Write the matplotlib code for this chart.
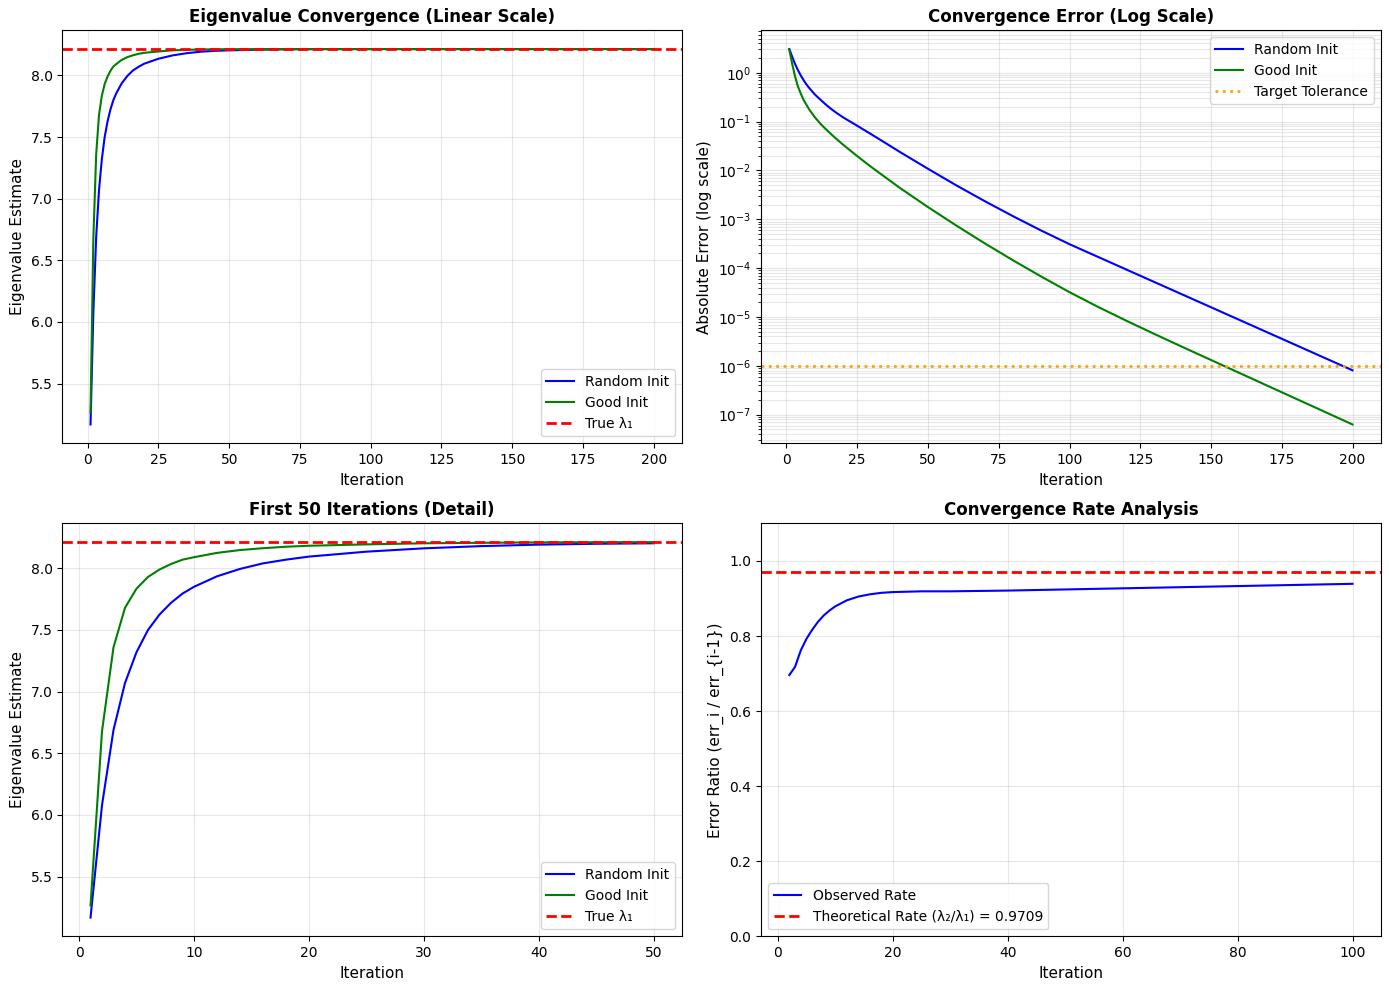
import matplotlib

matplotlib.use("Agg")
import matplotlib.pyplot as plt

TRUE_LAMBDA = 8.2134
THEORETICAL_RATE = 0.9709
TOLERANCE = 1e-6

# eigenvalue estimates
eig_iters = [1, 2, 3, 4, 5, 6, 7, 8, 9, 10, 12, 14, 16, 18, 20, 25, 30, 35, 40, 45, 50,
             60, 70, 80, 100, 125, 150, 175, 200]
eig_random = [5.168, 6.08, 6.69, 7.07, 7.32, 7.50, 7.625, 7.72, 7.795, 7.85, 7.935, 7.995,
              8.04, 8.07, 8.095, 8.135, 8.162, 8.18, 8.192, 8.199, 8.203,
              8.208, 8.2116, 8.2128, 8.2133, 8.2134, 8.2134, 8.2134, 8.2134]
eig_good = [5.265, 6.68, 7.36, 7.68, 7.835, 7.93, 7.99, 8.035, 8.07, 8.09, 8.125, 8.148,
            8.163, 8.175, 8.183, 8.194, 8.203, 8.207, 8.210, 8.2115, 8.2122,
            8.2130, 8.2133, 8.2134, 8.2134, 8.2134, 8.2134, 8.2134, 8.2134]

# absolute errors
err_iters = [1, 2, 3, 4, 5, 6, 7, 8, 10, 12, 14, 16, 18, 20, 25, 30, 35, 40, 45, 50,
             60, 70, 80, 90, 100, 110, 120, 130, 140, 150, 160, 170, 180, 190, 200]
err_random = [3.05, 2.13, 1.52, 1.14, 0.89, 0.71, 0.58, 0.49, 0.36, 0.28, 0.22, 0.177,
              0.146, 0.122, 0.082, 0.0548, 0.0363, 0.0240, 0.0161, 0.0108,
              4.95e-3, 2.36e-3, 1.159e-3, 5.88e-4, 3.09e-4, 1.705e-4, 9.41e-5, 5.19e-5,
              2.866e-5, 1.582e-5, 8.73e-6, 4.82e-6, 2.66e-6, 1.467e-6, 8.1e-7]
err_good = [2.95, 1.53, 0.85, 0.53, 0.38, 0.28, 0.223, 0.178, 0.123, 0.090, 0.069, 0.0537,
            0.0423, 0.0336, 0.0196, 0.0117, 7.18e-3, 4.41e-3, 2.80e-3, 1.775e-3,
            7.44e-4, 3.23e-4, 1.451e-4, 6.73e-5, 3.22e-5, 1.617e-5, 8.43e-6, 4.49e-6,
            2.42e-6, 1.317e-6, 7.17e-7, 3.90e-7, 2.125e-7, 1.157e-7, 6.30e-8]

# observed error ratio err_i / err_{i-1}
rate_iters = [2, 3, 4, 5, 6, 7, 8, 9, 10, 12, 14, 16, 18, 20, 25, 30, 40, 50, 60, 70, 80, 90, 100]
rate_observed = [0.696, 0.718, 0.762, 0.793, 0.817, 0.838, 0.855, 0.868, 0.879, 0.895, 0.905,
                 0.911, 0.915, 0.917, 0.919, 0.919, 0.921, 0.924, 0.927, 0.930, 0.933, 0.936, 0.939]


def eigen_panel(ax, iters, random_vals, good_vals, title):
    ax.plot(iters, random_vals, color="blue", linewidth=1.5, label="Random Init")
    ax.plot(iters, good_vals, color="green", linewidth=1.5, label="Good Init")
    ax.axhline(TRUE_LAMBDA, color="red", linestyle="--", linewidth=2, label="True λ₁")
    ax.set_title(title, fontweight="bold", fontsize=12)
    ax.set_xlabel("Iteration", fontsize=11)
    ax.set_ylabel("Eigenvalue Estimate", fontsize=11)
    ax.legend(loc="lower right")
    ax.grid(True, alpha=0.3)


fig, axes = plt.subplots(2, 2, figsize=(13.89, 9.9), dpi=100)
fig.subplots_adjust(left=0.0449, right=0.994, top=0.9694, bottom=0.0542,
                    wspace=0.128, hspace=0.194)

eigen_panel(axes[0, 0], eig_iters, eig_random, eig_good, "Eigenvalue Convergence (Linear Scale)")

n50 = eig_iters.index(50) + 1
eigen_panel(axes[1, 0], eig_iters[:n50], eig_random[:n50], eig_good[:n50], "First 50 Iterations (Detail)")

ax = axes[0, 1]
ax.semilogy(err_iters, err_random, color="blue", linewidth=1.5, label="Random Init")
ax.semilogy(err_iters, err_good, color="green", linewidth=1.5, label="Good Init")
ax.axhline(TOLERANCE, color="orange", linestyle=":", linewidth=2, label="Target Tolerance")
ax.set_title("Convergence Error (Log Scale)", fontweight="bold", fontsize=12)
ax.set_xlabel("Iteration", fontsize=11)
ax.set_ylabel("Absolute Error (log scale)", fontsize=11)
ax.legend(loc="upper right")
ax.grid(True, which="both", alpha=0.3)

ax = axes[1, 1]
ax.plot(rate_iters, rate_observed, color="blue", linewidth=1.5, label="Observed Rate")
ax.axhline(THEORETICAL_RATE, color="red", linestyle="--", linewidth=2,
           label=f"Theoretical Rate (λ₂/λ₁) = {THEORETICAL_RATE:.4f}")
ax.set_ylim(0, 1.1)
ax.set_title("Convergence Rate Analysis", fontweight="bold", fontsize=12)
ax.set_xlabel("Iteration", fontsize=11)
ax.set_ylabel("Error Ratio (err_i / err_{i-1})", fontsize=11)
ax.legend(loc="lower left")
ax.grid(True, alpha=0.3)

fig.savefig("out.png", dpi=100)
